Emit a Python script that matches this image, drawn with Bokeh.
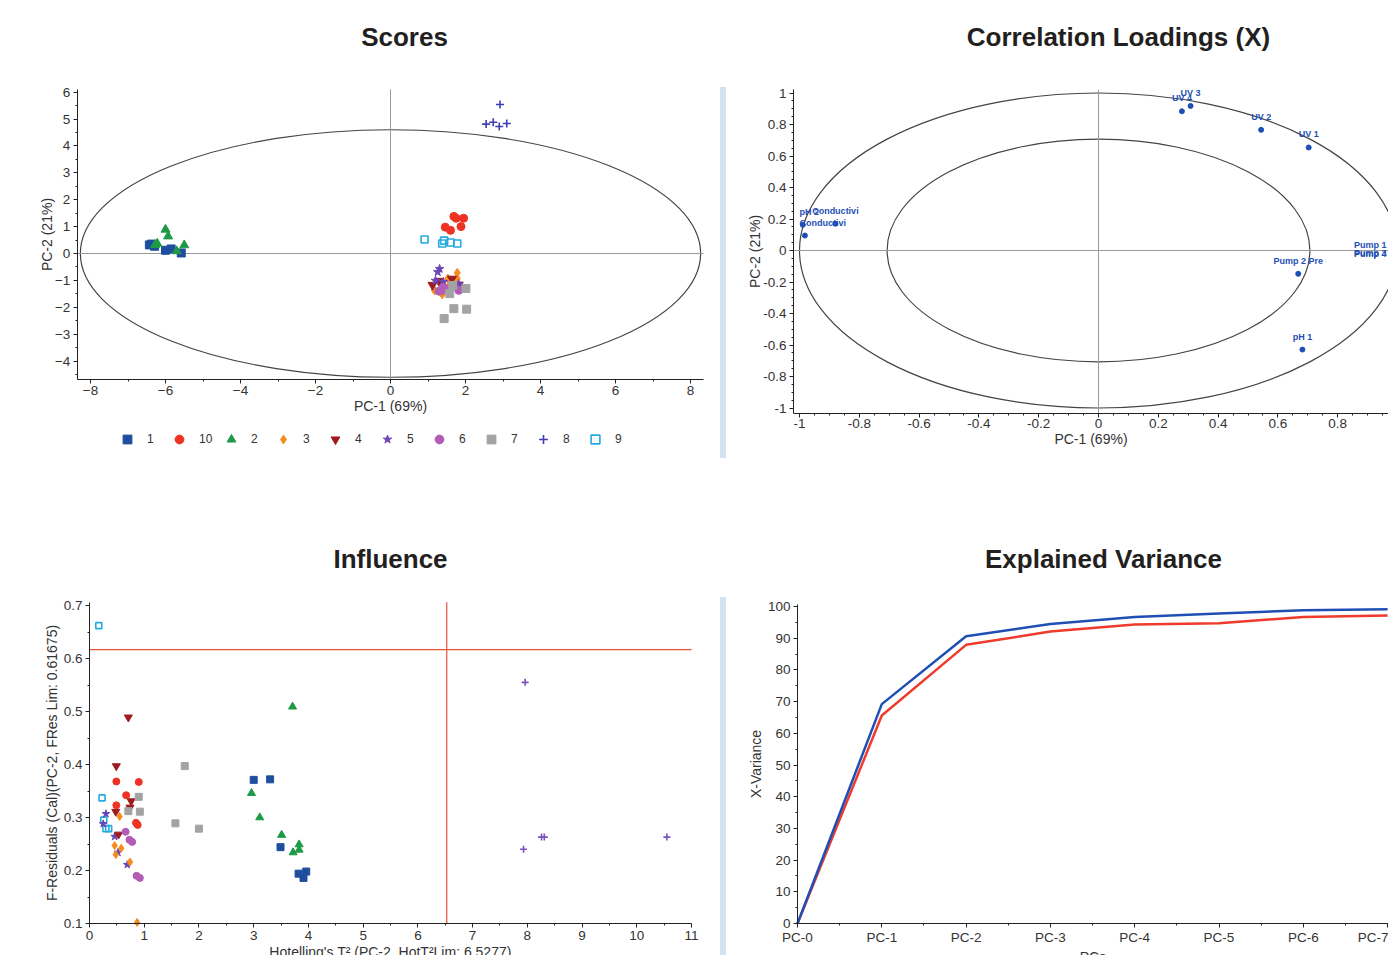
from bokeh.plotting import figure
from bokeh.layouts import row, column
from bokeh.models import (FixedTicker, NumeralTickFormatter, Legend, LegendItem,
                          Label, ColumnDataSource, Div)
from bokeh.embed import file_html
from bokeh.resources import INLINE
from bokeh.core.properties import value, field

FONT = "Liberation Sans"

# ---------------- data ----------------
score_groups = ["1", "10", "2", "3", "4", "5", "6", "7", "8", "9"]
score_pc1 = [
    [-6.43, -6.37, -6.29, -6.0, -5.85, -5.58],
    [1.69, 1.75, 1.95, 1.46, 1.6, 1.88],
    [-6.0, -5.93, -6.22, -6.28, -5.5, -5.7],
    [1.78, 1.78, 1.53, 1.17, 1.38, 1.55],
    [1.12, 1.64, 1.82, 1.29],
    [1.31, 1.26, 1.2, 1.41, 1.82],
    [1.29, 1.41, 1.55, 1.82, 1.38],
    [1.66, 1.58, 2.01, 1.69, 2.03, 1.43],
    [2.92, 2.55, 2.74, 2.9, 3.1],
    [0.91, 1.38, 1.43, 1.6, 1.78],
]
score_pc2 = [
    [0.32, 0.35, 0.27, 0.12, 0.17, 0.02],
    [1.38, 1.31, 1.31, 0.98, 0.86, 1.0],
    [0.89, 0.64, 0.37, 0.32, 0.31, 0.09],
    [-0.72, -0.93, -0.93, -1.37, -1.52, -1.21],
    [-1.17, -0.94, -1.16, -1.02],
    [-0.57, -0.69, -1.01, -1.06, -1.14],
    [-1.4, -1.26, -1.33, -1.37, -1.36],
    [-1.19, -1.49, -1.3, -2.05, -2.07, -2.42],
    [5.54, 4.81, 4.88, 4.72, 4.83],
    [0.52, 0.37, 0.48, 0.41, 0.37],
]
hotelling_a = 8.27   # Hotelling T2 ellipse semi-axis along PC-1
hotelling_b = 4.60   # Hotelling T2 ellipse semi-axis along PC-2
score_xlim = (-8.35, 8.35)
score_ylim = (-4.68, 6.1)

load_labels = ["pH 2", "Conductivi", "Conductivi", "UV 4", "UV 3", "UV 2", "UV 1",
               "Pump 2 Pre", "pH 1", "Pump 1 Pre", "Pump 3 Pre", "Pump 4 Pre"]
load_pc1 = [-0.989, -0.88, -0.982, 0.279, 0.308, 0.544, 0.703, 0.668, 0.682, 0.995, 0.99, 0.993]
load_pc2 = [0.163, 0.17, 0.095, 0.884, 0.918, 0.766, 0.654, -0.148, -0.629, -0.045, -0.098, -0.104]
inner_r = 0.707
outer_r = 1.0
load_xlim = (-1.02, 1.02)
load_ylim = (-1.035, 1.02)

infl_groups = ["9", "5", "8", "4", "10", "7", "3", "6", "1", "2"]
infl_t2 = [
    [0.17, 0.23, 0.26, 0.30, 0.35],
    [0.30, 0.25, 0.46, 0.52, 0.69],
    [7.96, 7.93, 8.26, 8.31, 10.55],
    [0.71, 0.49, 0.76, 0.74, 0.48, 0.53],
    [0.49, 0.90, 0.67, 0.49, 0.85, 0.88],
    [1.74, 0.90, 0.71, 0.92, 1.57, 2.0],
    [0.55, 0.46, 0.58, 0.48, 0.74, 0.87],
    [0.66, 0.73, 0.78, 0.86, 0.92],
    [3.0, 3.30, 3.49, 3.82, 3.91, 3.96],
    [3.71, 2.96, 3.11, 3.51, 3.83, 3.83, 3.72],
]
infl_fres = [
    [0.662, 0.337, 0.295, 0.279, 0.279],
    [0.307, 0.288, 0.264, 0.234, 0.211],
    [0.555, 0.240, 0.263, 0.263, 0.263],
    [0.489, 0.397, 0.331, 0.319, 0.311, 0.268],
    [0.368, 0.367, 0.342, 0.323, 0.290, 0.286],
    [0.397, 0.339, 0.312, 0.311, 0.289, 0.279],
    [0.302, 0.247, 0.242, 0.230, 0.216, 0.102],
    [0.273, 0.258, 0.254, 0.190, 0.186],
    [0.371, 0.372, 0.244, 0.194, 0.186, 0.198],
    [0.509, 0.346, 0.300, 0.267, 0.249, 0.239, 0.234],
]
fres_lim = 0.61675
hot_lim = 6.5277
infl_xlim = (0, 11)
infl_ylim = (0.1, 0.706)

pcs = ["PC-0", "PC-1", "PC-2", "PC-3", "PC-4", "PC-5", "PC-6", "PC-7"]
cal_var = [0, 69.2, 90.6, 94.5, 96.7, 97.8, 98.8, 99.1]
val_var = [0, 65.6, 87.9, 92.1, 94.3, 94.7, 96.7, 97.2]
var_ylim = (0, 100.6)

# ---------------- styles ----------------
STYLE = {
    "1": dict(marker="square", color="#1f4e9e", fill=True, size=8),
    "10": dict(marker="circle", color="#ee3224", fill=True, size=8),
    "2": dict(marker="triangle", color="#1e9a45", fill=True, size=9),
    "3": dict(marker="diamond", color="#f68b1f", fill=True, size=9),
    "4": dict(marker="inverted_triangle", color="#9e1b20", fill=True, size=9),
    "5": dict(marker="star", color="#6a45b5", fill=True, size=9),
    "6": dict(marker="circle", color="#b25cb8", fill=True, size=8),
    "7": dict(marker="square", color="#a3a3a3", fill=True, size=8),
    "8": dict(marker="cross", color="#3c3cb4", fill=False, size=8),
    "9": dict(marker="square", color="#25aae1", fill=False, size=7),
}
INFL_COLOR_OVERRIDE = {"8": "#7b52bd"}
BLUE = "#1f4fb5"
RED = "#ee3b2b"
LIMRED = "#e8503f"
AXC = "#222222"
TXT = "#333333"
ZERO = "#9a9a9a"


class Frame:
    """Maps pixel positions inside a figure (from its top-left) to data units."""
    def __init__(self, width, height, x0_px, x_scale, y0_px, y_scale):
        self.w, self.h = width, height
        self.x0, self.xs, self.y0, self.ys = x0_px, x_scale, y0_px, y_scale

    def xr(self):
        return (-self.x0 / self.xs, (self.w - self.x0) / self.xs)

    def yr(self):
        return (-(self.h - self.y0) / self.ys, self.y0 / self.ys)

    def dx(self, px):
        return (px - self.x0) / self.xs

    def dy(self, py):
        return (self.y0 - py) / self.ys


def make_fig(fr):
    p = figure(width=fr.w, height=fr.h, x_range=fr.xr(), y_range=fr.yr(),
               min_border=0, min_border_left=0, min_border_right=0,
               min_border_top=0, min_border_bottom=0,
               toolbar_location=None, output_backend="svg", title=None)
    p.grid.visible = False
    p.outline_line_color = None
    return p


def style_axes(p, xfix, yfix, xbounds, ybounds, xlabel, ylabel, xstand, ystand, xlab_stand=3):
    p.xaxis.fixed_location = xfix
    p.yaxis.fixed_location = yfix
    p.xaxis.bounds = xbounds
    p.yaxis.bounds = ybounds
    p.xaxis.axis_label = xlabel
    p.yaxis.axis_label = ylabel
    for ax in p.axis:
        ax.axis_line_color = AXC
        ax.major_tick_line_color = AXC
        ax.minor_tick_line_color = AXC
        ax.major_tick_out = 4
        ax.major_tick_in = 0
        ax.minor_tick_out = 2
        ax.minor_tick_in = 0
        ax.major_label_text_font = FONT
        ax.major_label_text_font_size = "13.5px"
        ax.major_label_text_color = TXT
        ax.axis_label_text_font = FONT
        ax.axis_label_text_font_size = "14px"
        ax.axis_label_text_font_style = "normal"
        ax.axis_label_text_color = TXT
        ax.major_label_standoff = 3
    p.xaxis.major_label_standoff = xlab_stand
    p.xaxis.axis_label_standoff = xstand
    p.yaxis.axis_label_standoff = ystand


def add_title(p, fr, text, cx, cy):
    p.add_layout(Label(x=fr.dx(cx), y=fr.dy(cy), text=text, text_align="center",
                       text_baseline="middle", text_font=FONT, text_font_size="26px",
                       text_font_style="bold", text_color="#231f20"))


def add_marker(p, xs, ys, st, color=None):
    c = color or st["color"]
    kw = dict(marker=st["marker"], size=st["size"], line_color=c)
    if st["fill"]:
        kw["fill_color"] = c
    else:
        kw["fill_color"] = None
        kw["line_width"] = 1.6
    return p.scatter(xs, ys, **kw)


def separator(h, top, length):
    return Div(width=6, height=h, margin=0,
               text=('<div style="padding-top:%dpx"><div style="width:6px;height:%dpx;'
                     'background:#d4e2f0"></div></div>') % (top, length))


# ---------------- Scores ----------------
f1 = Frame(720, 500, 390, 37.5, 253, 26.9)
p1 = make_fig(f1)
add_title(p1, f1, "Scores", 404, 36)
p1.ellipse(x=[0], y=[0], width=[2 * hotelling_a], height=[2 * hotelling_b],
           fill_color=None, line_color="#444444", line_width=1.2)
p1.segment(x0=[0, score_xlim[0]], y0=[score_ylim[0], 0], x1=[0, score_xlim[1]], y1=[score_ylim[1], 0],
           line_color=ZERO, line_width=1)
items = []
for g, xs, ys in zip(score_groups, score_pc1, score_pc2):
    r = add_marker(p1, xs, ys, STYLE[g])
    items.append(LegendItem(label=g, renderers=[r]))
legend = Legend(items=items, orientation="horizontal", location=(116, 500 - 439 - 11),
                border_line_color=None, background_fill_alpha=0,
                label_text_font=FONT, label_text_font_size="12px", label_text_color=TXT,
                glyph_width=22, glyph_height=22, label_standoff=9, label_width=20,
                label_height=14, spacing=1, padding=2, margin=0)
p1.add_layout(legend)
p1.xaxis.ticker = FixedTicker(ticks=list(range(-8, 9, 2)), minor_ticks=list(range(-8, 9)))
p1.yaxis.ticker = FixedTicker(ticks=list(range(-4, 7)),
                              minor_ticks=[v / 2 for v in range(-9, 13)])
style_axes(p1, score_ylim[0], score_xlim[0], score_xlim, score_ylim,
           "PC-1 (69%)", "PC-2 (21%)", -1, -3)

# ---------------- Correlation Loadings ----------------
f2 = Frame(662, 500, 372, 299, 250, 157.5)
p2 = make_fig(f2)
add_title(p2, f2, "Correlation Loadings (X)", 1118 - 726, 36)
p2.ellipse(x=[0, 0], y=[0, 0], width=[2 * outer_r, 2 * inner_r], height=[2 * outer_r, 2 * inner_r],
           fill_color=None, line_color="#444444", line_width=1.2)
p2.segment(x0=[0, load_xlim[0]], y0=[load_ylim[0], 0], x1=[0, load_xlim[1]], y1=[load_ylim[1], 0],
           line_color=ZERO, line_width=1)
p2.scatter(load_pc1, load_pc2, marker="circle", size=5, color=BLUE)
lx, la = [], []
for lab, x in zip(load_labels, load_pc1):
    hw = len(lab) * 5.0 / 2 / 299.0
    if x - hw < -1.0:
        lx.append(-1.0); la.append("left")
    elif x + hw > load_xlim[1]:
        lx.append(load_xlim[1]); la.append("right")
    else:
        lx.append(x); la.append("center")
src = ColumnDataSource(dict(x=lx, y=load_pc2, t=load_labels, a=la))
p2.text(x="x", y="y", text="t", source=src, text_align=field("a"), text_baseline="middle",
        y_offset=-13, text_font=value(FONT), text_font_size="9px", text_font_style="bold",
        text_color=BLUE)
t02 = [round(-1 + 0.2 * i, 1) for i in range(11)]
m02 = [round(-1 + 0.05 * i, 2) for i in range(41)]
p2.xaxis.ticker = FixedTicker(ticks=t02, minor_ticks=m02)
p2.yaxis.ticker = FixedTicker(ticks=t02, minor_ticks=m02)
p2.xaxis.formatter = NumeralTickFormatter(format="0.[0]")
p2.yaxis.formatter = NumeralTickFormatter(format="0.[0]")
style_axes(p2, load_ylim[0], load_xlim[0], load_xlim, load_ylim,
           "PC-1 (69%)", "PC-2 (21%)", 0, -3, xlab_stand=1)

# ---------------- Influence ----------------
f3 = Frame(720, 455, 89, 54.73, 476, 530)
p3 = make_fig(f3)
add_title(p3, f3, "Influence", 390, 58)
for g, xs, ys in zip(infl_groups, infl_t2, infl_fres):
    st = dict(STYLE[g])
    st["size"] = st["size"] - 1
    add_marker(p3, xs, ys, st, INFL_COLOR_OVERRIDE.get(g))
p3.segment(x0=[infl_xlim[0], hot_lim], y0=[fres_lim, infl_ylim[0]],
           x1=[infl_xlim[1], hot_lim], y1=[fres_lim, infl_ylim[1]],
           line_color=LIMRED, line_width=1.2)
p3.xaxis.ticker = FixedTicker(ticks=list(range(0, 12)), minor_ticks=[v / 2 for v in range(0, 23)])
p3.yaxis.ticker = FixedTicker(ticks=[0.1, 0.2, 0.3, 0.4, 0.5, 0.6, 0.7],
                              minor_ticks=[round(0.1 + 0.05 * i, 2) for i in range(13)])
p3.yaxis.formatter = NumeralTickFormatter(format="0.[0]")
style_axes(p3, infl_ylim[0], infl_xlim[0], infl_xlim, infl_ylim,
           "Hotelling's T² (PC-2, HotT²Lim: 6.5277)", "F-Residuals (Cal)(PC-2, FRes Lim: 0.61675)",
           1, 1)

# ---------------- Explained Variance ----------------
f4 = Frame(662, 455, 71, 84.3, 423, 3.17)
p4 = make_fig(f4)
add_title(p4, f4, "Explained Variance", 1103 - 726, 58)
xi = list(range(len(pcs)))
p4.line(xi, val_var, line_color=RED, line_width=2.5)
p4.line(xi, cal_var, line_color=BLUE, line_width=2.5)
p4.xaxis.ticker = FixedTicker(ticks=xi, minor_ticks=[v / 2 for v in range(0, 15)])
p4.xaxis.major_label_overrides = {i: s for i, s in enumerate(pcs)}
p4.yaxis.ticker = FixedTicker(ticks=list(range(0, 101, 10)), minor_ticks=list(range(0, 101, 5)))
style_axes(p4, var_ylim[0], 0, (0, len(pcs) - 1 + 0.01), var_ylim, "PCs", "X-Variance", 1, 1,
           xlab_stand=2)

layout = column(row(p1, separator(500, 87, 371), p2),
                row(p3, separator(455, 97, 358), p4))

open("out.html", "w").write(file_html(layout, INLINE))
